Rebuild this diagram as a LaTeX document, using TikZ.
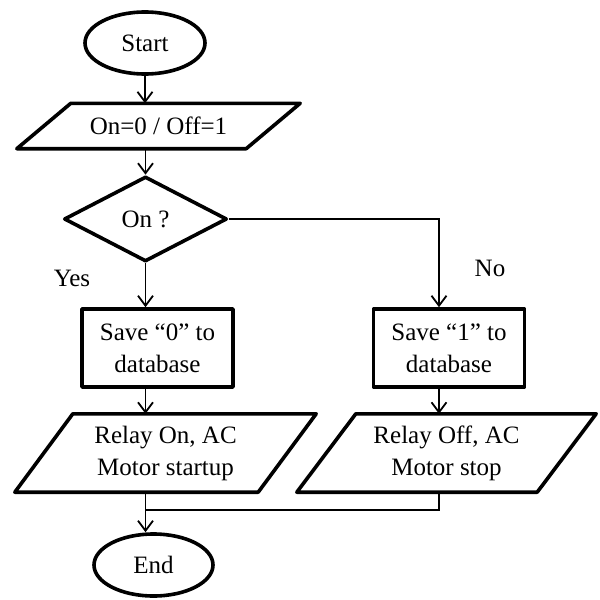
\documentclass[tikz,border=0pt]{standalone}
\usepackage{fontspec}
\setmainfont{Liberation Serif}
\usetikzlibrary{shapes.geometric,arrows.meta,calc}
\begin{document}
\begin{tikzpicture}[x=1pt,y=-1pt,
  txt/.style={font=\fontsize{25}{32}\selectfont, align=center, inner sep=0pt},
  bord/.style={draw, line width=3.6pt, line join=round},
  term/.style={txt, bord, ellipse, minimum width=120pt, minimum height=62pt},
  proc/.style={txt, bord, rectangle, minimum width=151pt, minimum height=78pt},
  decis/.style={txt, bord, diamond, minimum width=163pt, minimum height=85pt},
  io/.style={txt, rectangle},
  conn/.style={line width=1.8pt},
  arr/.style={conn, -{Straight Barb[length=10pt,width=15pt,line width=1.8pt]}},
  lbl/.style={font=\fontsize{25}{32}\selectfont, inner sep=0pt}]
\useasboundingbox (0,0) rectangle (600,600);

\node[term] (start) at (145,43) {Start};
\node[io, minimum width=283pt, minimum height=45pt] (p1) at (158.5,126) {On=0 / Off=1};
\node[decis] (dec) at (145.5,219) {On ?};
\node[proc] (b1) at (157.5,348) {Save “0” to\\database};
\node[proc] (b2) at (449,348) {Save “1” to\\database};
\node[io, minimum width=301pt, minimum height=78pt] (p2) at (165.5,453) {Relay On, AC\\Motor startup};
\node[io, minimum width=299pt, minimum height=78pt] (p3) at (446.5,453) {Relay Off, AC\\Motor stop};
\node[term, minimum width=119pt] (end) at (153.5,565) {End};
\node[lbl] (yes) at (72,278) {Yes};
\node[lbl] (no) at (490,268) {No};
\coordinate (nocol) at (439,219);
\coordinate (merge) at (145,510);

% parallelograms
\draw[bord] ($(p1.north west)+(54,0)$) -- (p1.north east) -- ($(p1.south east)+(-54,0)$) -- (p1.south west) -- cycle;
\draw[bord] ($(p2.north west)+(58,0)$) -- (p2.north east) -- ($(p2.south east)+(-58,0)$) -- (p2.south west) -- cycle;
\draw[bord] ($(p3.north west)+(59,0)$) -- (p3.north east) -- ($(p3.south east)+(-59,0)$) -- (p3.south west) -- cycle;

% connectors
\draw[arr] (start.south) -- (start.south |- p1.north);
\draw[arr] (dec.north |- p1.south) -- (dec.north);
\draw[arr] (dec.south) -- (dec.south |- b1.north);
\draw[arr] (dec.east) -- (nocol) -- (nocol |- b2.north);
\draw[arr] (dec.south |- b1.south) -- (dec.south |- p2.north);
\draw[arr] (nocol |- b2.south) -- (nocol |- p3.north);
\draw[arr] (dec.south |- p2.south) -- (dec.south |- end.north);
\draw[conn] (nocol |- p3.south) -- (nocol |- merge) -- (merge);
\end{tikzpicture}
\end{document}
